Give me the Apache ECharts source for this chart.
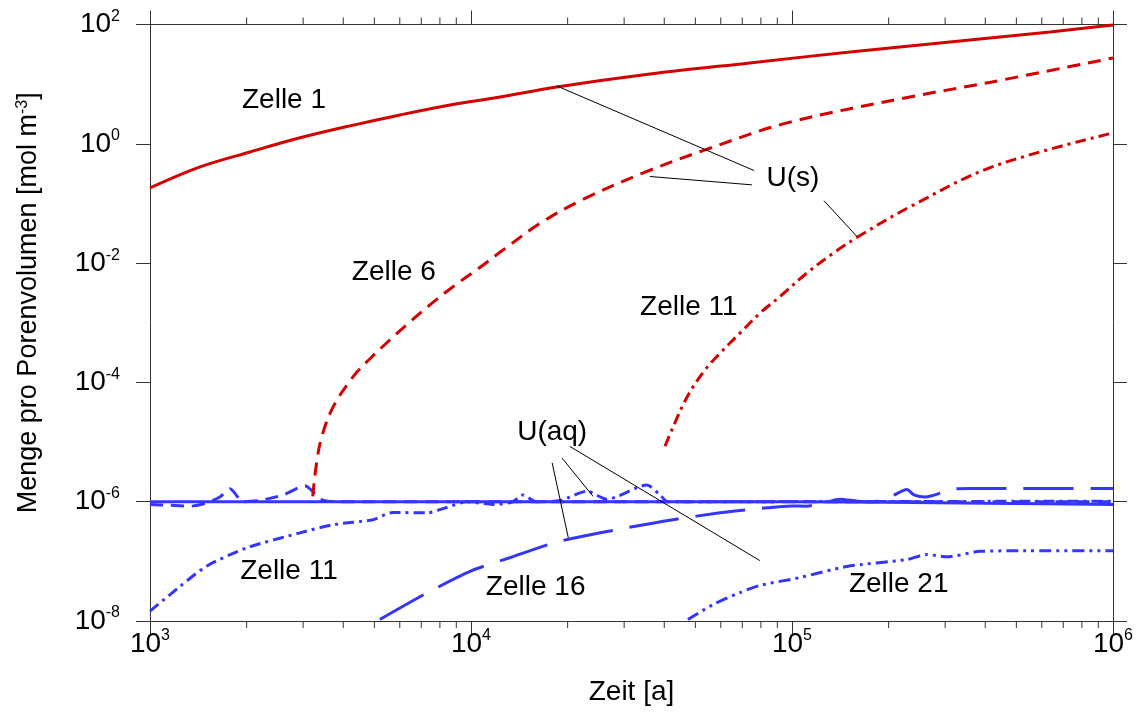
<!DOCTYPE html>
<html>
<head>
<meta charset="utf-8">
<title>Uran in den Zellen</title>
<script src="https://cdn.jsdelivr.net/npm/echarts@6/dist/echarts.min.js"></script>
<style>
  html, body { margin: 0; padding: 0; background: #fff; }
  #chart { width: 1144px; height: 719px; }
</style>
</head>
<body>
<div id="chart"></div>
<script>
// Zeit [a] / Menge [mol m-3]
// U(s) - rot
var usZelle1 = [[1000, 0.182], [1432, 0.41], [2049, 0.73], [2933, 1.26], [4198, 2.0], [6010, 3.05],
  [8603, 4.48], [12310, 6.1], [18500, 8.97], [36100, 14.8], [73900, 22.7], [151600, 34.6],
  [310500, 50.9], [636400, 74.8], [1000000, 98]];
var usZelle6 = [[3213, 1.23e-6], [3304, 4.5e-6], [3430, 1.24e-5], [3727, 3.96e-5], [4300, 1.26e-4],
  [4844, 2.49e-4], [5594, 5.19e-4], [6306, 9.25e-4], [7451, 2.0e-3], [8810, 4.06e-3], [10420, 7.73e-3],
  [12610, 0.0167], [16500, 0.0473], [22200, 0.115], [34400, 0.326], [53600, 0.79], [96500, 2.24],
  [233000, 6.1], [420000, 10.9], [1000000, 27.5]];
var usZelle11 = [[40200, 8.5e-6], [42700, 1.83e-5], [45800, 4.23e-5], [49260, 8.57e-5], [54200, 1.75e-4],
  [59700, 3.1e-4], [68900, 6.73e-4], [79500, 1.45e-3], [91800, 2.76e-3], [111200, 6.8e-3],
  [134600, 0.0147], [161000, 0.0279], [233000, 0.0877], [420000, 0.41], [1000000, 1.52]];

// U(aq) - blau
var uaqZelle1 = [[1000, 1.0e-6], [30000, 1.0e-6], [100000, 1.0e-6], [200000, 0.98e-6],
  [400000, 0.94e-6], [1000000, 0.9e-6]];
var uaqZelle6 = [[1000, 0.9e-6], [1150, 0.87e-6], [1333, 0.84e-6], [1500, 0.95e-6], [1650, 1.2e-6],
  [1775, 1.65e-6], [1950, 1.0e-6], [2200, 1.05e-6], [2600, 1.3e-6], [3040, 1.85e-6], [3400, 1.1e-6],
  [3800, 1.0e-6], [1000000, 1.0e-6]];
var uaqZelle11 = [[1000, 1.46e-8], [1240, 3.8e-8], [1500, 8.3e-8], [2000, 1.68e-7], [2930, 3.0e-7],
  [3700, 4.1e-7], [4950, 5.0e-7], [5700, 6.6e-7], [7300, 6.5e-7], [8400, 8.0e-7], [9700, 1.0e-6],
  [11700, 0.9e-6], [13500, 1.0e-6], [14500, 1.3e-6], [16000, 1.0e-6], [19000, 1.05e-6], [23000, 1.5e-6],
  [26500, 1.1e-6], [35300, 1.9e-6], [38800, 1.3e-6], [41000, 1.0e-6], [1000000, 1.02e-6]];
var uaqZelle16 = [[5200, 1.06e-8], [7300, 2.96e-8], [9930, 6.8e-8], [13200, 1.15e-7], [18900, 2.17e-7],
  [30500, 3.64e-7], [42600, 5.0e-7], [59700, 6.5e-7], [83400, 7.9e-7], [100000, 0.85e-6],
  [111000, 0.84e-6], [125000, 0.95e-6], [141000, 1.1e-6], [160000, 1.02e-6], [179000, 1.0e-6],
  [205000, 1.25e-6], [228000, 1.6e-6], [240000, 1.3e-6], [260000, 1.2e-6], [317000, 1.62e-6],
  [360000, 1.66e-6], [1000000, 1.66e-6]];
var uaqZelle21 = [[47400, 1.06e-8], [56800, 1.89e-8], [68900, 3.0e-8], [79400, 3.94e-8], [105900, 5.36e-8],
  [148300, 8.2e-8], [227000, 1.07e-7], [263000, 1.3e-7], [303000, 1.19e-7], [385000, 1.47e-7],
  [488000, 1.5e-7], [1000000, 1.5e-7]];

// Beschriftungen [t, menge, text]
var labelsText = [
  [2615, 5.43, 'Zelle 1'], [5750, 6.9e-3, 'Zelle 6'], [47700, 1.85e-3, 'Zelle 11'],
  [100700, 0.269, 'U(s)'], [17900, 1.44e-5, 'U(aq)'], [2710, 6.75e-8, 'Zelle 11'],
  [15900, 3.64e-8, 'Zelle 16'], [215000, 4.1e-8, 'Zelle 21']
];
// Hinweislinien
var leaderLines = [
  [[18500, 9.33], [76200, 0.356]],
  [[36100, 0.283], [75000, 0.205]],
  [[125800, 0.111], [159400, 0.0279]],
  [[17900, 4.47e-6], [20100, 2.48e-7]],
  [[19200, 5.42e-6], [24000, 1.23e-6]],
  [[20300, 8.47e-6], [79400, 1.03e-7]]
];

var xMin = 1e3, xMax = 1e6, yMin = 1e-8, yMax = 1e2;
var xMajorTicks = [1e3, 1e4, 1e5, 1e6];
var yMajorTicks = [1e-8, 1e-6, 1e-4, 1e-2, 1, 1e2];
var xMinorTicks = [];
[1e3, 1e4, 1e5].forEach(function (d) {
  for (var k = 2; k <= 9; k++) xMinorTicks.push(k * d);
});

var FONT = 'Liberation Sans, Arial, Helvetica, sans-serif';
var RED = '#d40000';
var BLUE = '#3535ff';
var AXIS = '#333';

var richPow = {
  b: { fontSize: 28, lineHeight: 32, fontFamily: FONT, color: '#000' },
  sup: { fontSize: 16, lineHeight: 16, verticalAlign: 'top', fontFamily: FONT, color: '#000' }
};

function powLabel (value) {
  var e = Math.round(Math.log(value) / Math.LN10);
  return '{b|10}{sup|' + e + '}';
}

function logAxis (ticks, opts) {
  return Object.assign({
    type: 'log',
    logBase: 10,
    axisLine: { show: true, onZero: false, lineStyle: { color: AXIS, width: 1 } },
    axisTick: { show: true, inside: false, length: 14, customValues: ticks, lineStyle: { color: AXIS, width: 1 } },
    splitLine: { show: false },
    axisLabel: { show: false }
  }, opts);
}

function lineSeries (name, data, color, dash, z, smooth) {
  return {
    name: name,
    type: 'line',
    data: data,
    showSymbol: false,
    symbol: 'none',
    smooth: smooth || 0.25,
    z: z || 2,
    lineStyle: { color: color, width: 3, type: dash || 'solid', cap: 'butt' }
  };
}

var chart = echarts.init(document.getElementById('chart'));

var option = {
  animation: false,
  backgroundColor: '#fff',
  grid: { left: 150, right: 31, top: 24.5, bottom: 98 },
  xAxis: [
    logAxis(xMajorTicks, {
      min: xMin, max: xMax, position: 'bottom',
      axisLabel: { show: true, margin: 7, customValues: xMajorTicks, formatter: powLabel, rich: richPow },
      name: 'Zeit [a]', nameLocation: 'middle', nameGap: 57,
      nameTextStyle: { fontSize: 28, fontFamily: FONT, color: '#000' }
    }),
    logAxis(xMajorTicks, { min: xMin, max: xMax, position: 'top' })
  ],
  yAxis: [
    logAxis(yMajorTicks, {
      min: yMin, max: yMax, position: 'left',
      axisLabel: { show: true, margin: 30, customValues: yMajorTicks, formatter: powLabel, rich: richPow },
      name: 'Menge pro Porenvolumen [mol m{sup|-3}]', nameLocation: 'middle', nameGap: 108,
      nameTextStyle: {
        fontSize: 27, fontFamily: FONT, color: '#000', padding: [0, 0, 0, 40],
        rich: { sup: { fontSize: 16, lineHeight: 16, verticalAlign: 'top', fontFamily: FONT, color: '#000' } }
      }
    }),
    logAxis(yMajorTicks, { min: yMin, max: yMax, position: 'right' })
  ],
  series: [
    {
      type: 'custom',
      silent: true,
      clip: false,
      data: xMinorTicks.map(function (t) { return [t, 1]; }),
      renderItem: function (params, api) {
        var t = api.value(0);
        var b = api.coord([t, yMin]);
        var tp = api.coord([t, yMax]);
        return {
          type: 'group',
          children: [
            { type: 'line', shape: { x1: b[0], y1: b[1], x2: b[0], y2: b[1] + 7 }, style: { stroke: AXIS, lineWidth: 1 } },
            { type: 'line', shape: { x1: tp[0], y1: tp[1], x2: tp[0], y2: tp[1] - 7 }, style: { stroke: AXIS, lineWidth: 1 } }
          ]
        };
      }
    },
    lineSeries('U(aq) Zelle 21', uaqZelle21, BLUE, [12, 5, 3, 5, 3, 5]),
    lineSeries('U(aq) Zelle 16', uaqZelle16, BLUE, [50, 17]),
    lineSeries('U(aq) Zelle 11', uaqZelle11, BLUE, [11, 5, 3, 5]),
    lineSeries('U(aq) Zelle 6', uaqZelle6, BLUE, [13, 8]),
    lineSeries('U(aq) Zelle 1', uaqZelle1, BLUE, 'solid', 3),
    lineSeries('U(s) Zelle 11', usZelle11, RED, [11, 5, 3, 5], 4, 0.35),
    lineSeries('U(s) Zelle 6', usZelle6, RED, [13, 8], 4, 0.35),
    lineSeries('U(s) Zelle 1', usZelle1, RED, 'solid', 4, 0.35),
    {
      type: 'lines',
      coordinateSystem: 'cartesian2d',
      silent: true,
      z: 5,
      lineStyle: { color: '#000', width: 1, opacity: 1 },
      data: leaderLines.map(function (c) { return { coords: c }; })
    },
    {
      type: 'scatter',
      silent: true,
      symbolSize: 0,
      z: 6,
      itemStyle: { opacity: 1 },
      data: labelsText,
      label: {
        show: true,
        position: 'inside',
        fontSize: 28,
        fontFamily: FONT,
        color: '#000',
        opacity: 1,
        formatter: function (p) { return p.data[2]; }
      }
    }
  ]
};

chart.setOption(option);
</script>
</body>
</html>
